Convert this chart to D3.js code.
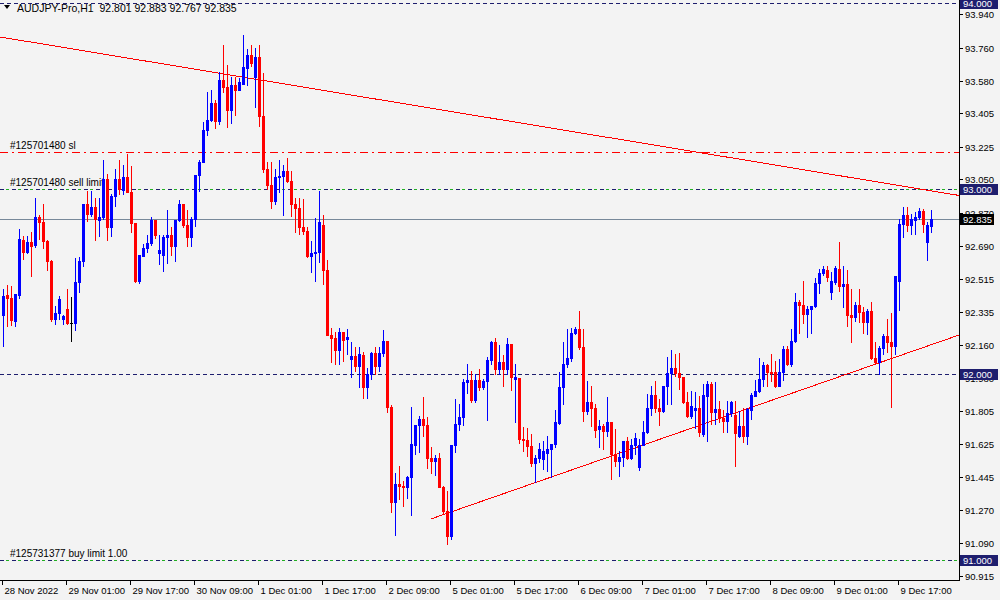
<!DOCTYPE html>
<html>
<head>
<meta charset="utf-8">
<script src="https://cdn.jsdelivr.net/npm/d3@7"></script>
<style>
  html, body { margin: 0; padding: 0; background: #f3f3f3; }
  svg { display: block; }
  text { font-family: "Liberation Sans", Arial, sans-serif; }
</style>
</head>
<body>
<svg id="chart" width="1000" height="600"></svg>
<script>
// AUDJPY-Pro, H1 candles (bar 0 = 28 Nov 2022 09:00)
const open = [
92.318, 92.426, 92.410, 92.286, 92.426, 92.722, 92.657, 92.711, 92.695, 92.845,
92.819, 92.716, 92.608, 92.297, 92.329, 92.297, 92.350, 92.275, 92.275, 92.496,
92.608, 92.915, 92.862, 92.899, 92.829, 92.845, 93.050, 92.792, 92.958, 93.050,
92.991, 93.061, 92.980, 92.813, 92.501, 92.636, 92.679, 92.706, 92.829, 92.651,
92.641, 92.738, 92.749, 92.690, 92.829, 92.915, 92.803, 92.738, 92.835, 93.072,
93.141, 93.314, 93.368, 93.464, 93.362, 93.583, 93.545, 93.426, 93.556, 93.534,
93.566, 93.652, 93.722, 93.603, 93.711, 93.389, 93.104, 93.018, 92.931, 93.061,
93.066, 93.093, 93.039, 92.920, 92.894, 92.792, 92.770, 92.636, 92.651, 92.657,
92.803, 92.561, 92.211, 92.194, 92.130, 92.227, 92.189, 92.081, 92.097, 92.043,
92.103, 91.931, 92.001, 92.113, 92.043, 92.113, 92.178, 91.823, 91.312, 91.409,
91.398, 91.393, 91.447, 91.619, 91.727, 91.759, 91.727, 91.548, 91.532, 91.548,
91.393, 91.263, 91.129, 91.619, 91.732, 91.770, 91.958, 91.969, 91.861, 91.969,
91.931, 91.963, 92.076, 92.173, 92.028, 92.065, 92.028, 92.162, 91.974, 91.979,
91.651, 91.646, 91.613, 91.521, 91.548, 91.543, 91.575, 91.597, 91.624, 91.737,
91.931, 92.055, 92.087, 92.221, 92.243, 92.146, 91.802, 91.850, 91.818, 91.705,
91.721, 91.694, 91.743, 91.570, 91.532, 91.554, 91.640, 91.548, 91.619, 91.500,
91.619, 91.689, 91.818, 91.888, 91.818, 91.802, 91.936, 92.006, 92.033, 92.006,
91.985, 91.850, 91.775, 91.807, 91.818, 91.678, 91.882, 91.947, 91.796, 91.812,
91.764, 91.748, 91.791, 91.780, 91.667, 91.721, 91.667, 91.807, 91.882, 91.909,
91.974, 92.049, 92.012, 92.012, 91.936, 92.012, 92.135, 92.055, 92.178, 92.388,
92.372, 92.323, 92.350, 92.366, 92.490, 92.544, 92.561, 92.442, 92.496, 92.566,
92.474, 92.485, 92.318, 92.307, 92.372, 92.334, 92.281, 92.339, 92.087, 92.065,
92.141, 92.205, 92.173, 92.151, 92.501, 92.808, 92.856, 92.803, 92.829, 92.845,
92.878, 92.711, 92.801
];
const high = [
92.458, 92.480, 92.474, 92.431, 92.781, 92.743, 92.743, 92.765, 92.948, 92.856,
92.915, 92.722, 92.614, 92.366, 92.420, 92.318, 92.458, 92.415, 92.625, 92.630,
92.915, 92.985, 92.985, 92.948, 92.948, 93.157, 93.077, 92.969, 93.104, 93.157,
93.130, 93.189, 93.120, 92.813, 92.641, 92.700, 92.749, 92.850, 92.829, 92.749,
92.749, 92.883, 92.792, 92.829, 92.937, 92.915, 92.883, 92.845, 93.072, 93.157,
93.357, 93.518, 93.534, 93.480, 93.630, 93.776, 93.668, 93.603, 93.603, 93.598,
93.830, 93.754, 93.776, 93.760, 93.776, 93.625, 93.141, 93.141, 93.104, 93.152,
93.125, 93.163, 93.093, 92.948, 92.948, 92.942, 92.792, 92.716, 92.840, 92.985,
92.856, 92.614, 92.248, 92.227, 92.248, 92.227, 92.243, 92.173, 92.146, 92.146,
92.119, 92.033, 92.119, 92.146, 92.146, 92.238, 92.178, 91.834, 91.468, 91.506,
91.425, 91.452, 91.823, 91.727, 91.775, 91.877, 91.770, 91.608, 91.565, 91.575,
91.398, 91.371, 91.619, 91.866, 91.839, 91.974, 92.055, 92.017, 92.001, 92.028,
91.974, 92.092, 92.178, 92.194, 92.157, 92.103, 92.194, 92.162, 92.055, 91.979,
91.716, 91.710, 91.678, 91.565, 91.629, 91.640, 91.667, 91.624, 91.807, 92.012,
92.173, 92.243, 92.248, 92.254, 92.339, 92.243, 91.963, 91.936, 91.839, 91.754,
91.732, 91.877, 91.743, 91.705, 91.586, 91.640, 91.662, 91.651, 91.683, 91.651,
91.748, 91.893, 91.936, 91.963, 91.866, 91.936, 92.092, 92.130, 92.108, 92.113,
91.985, 91.904, 91.909, 91.904, 91.882, 91.947, 91.963, 91.958, 91.958, 91.855,
91.807, 91.855, 91.855, 91.855, 91.802, 91.818, 91.818, 91.898, 91.969, 92.087,
92.065, 92.055, 92.108, 92.070, 92.081, 92.151, 92.151, 92.243, 92.436, 92.399,
92.501, 92.366, 92.366, 92.517, 92.566, 92.581, 92.581, 92.550, 92.581, 92.711,
92.581, 92.561, 92.458, 92.388, 92.458, 92.361, 92.350, 92.388, 92.173, 92.151,
92.216, 92.297, 92.329, 92.528, 92.835, 92.899, 92.899, 92.862, 92.872, 92.894,
92.888, 92.819, 92.883
];
const low = [
92.151, 92.259, 92.265, 92.259, 92.410, 92.619, 92.651, 92.528, 92.684, 92.727,
92.679, 92.561, 92.286, 92.270, 92.297, 92.270, 92.270, 92.178, 92.238, 92.442,
92.581, 92.824, 92.851, 92.722, 92.743, 92.835, 92.722, 92.743, 92.904, 92.969,
92.969, 92.980, 92.765, 92.496, 92.490, 92.636, 92.657, 92.695, 92.733, 92.592,
92.555, 92.597, 92.641, 92.608, 92.824, 92.792, 92.690, 92.690, 92.797, 92.985,
93.141, 93.287, 93.362, 93.325, 93.346, 93.523, 93.330, 93.351, 93.399, 93.529,
93.566, 93.556, 93.663, 93.442, 93.335, 93.088, 92.996, 92.894, 92.920, 92.980,
92.856, 93.034, 92.851, 92.765, 92.754, 92.754, 92.630, 92.550, 92.501, 92.603,
92.485, 92.211, 92.065, 92.054, 92.054, 92.070, 92.108, 91.985, 92.017, 91.931,
91.872, 91.872, 91.974, 92.001, 92.017, 92.097, 91.796, 91.258, 91.135, 91.328,
91.290, 91.333, 91.242, 91.570, 91.581, 91.667, 91.495, 91.468, 91.458, 91.393,
91.252, 91.086, 91.113, 91.581, 91.700, 91.727, 91.898, 91.850, 91.850, 91.915,
91.920, 91.754, 92.054, 92.001, 92.001, 91.936, 92.001, 91.915, 91.743, 91.630,
91.586, 91.560, 91.506, 91.420, 91.527, 91.490, 91.479, 91.447, 91.608, 91.732,
91.839, 92.039, 92.070, 92.216, 92.135, 91.748, 91.786, 91.721, 91.662, 91.608,
91.597, 91.667, 91.436, 91.506, 91.452, 91.506, 91.543, 91.543, 91.570, 91.484,
91.619, 91.683, 91.780, 91.796, 91.727, 91.796, 91.839, 91.839, 91.990, 91.920,
91.845, 91.770, 91.764, 91.710, 91.667, 91.667, 91.640, 91.732, 91.732, 91.743,
91.689, 91.689, 91.775, 91.506, 91.662, 91.635, 91.624, 91.759, 91.882, 91.904,
91.936, 91.936, 91.963, 91.931, 91.936, 91.969, 92.049, 92.044, 92.173, 92.221,
92.275, 92.200, 92.221, 92.361, 92.436, 92.534, 92.501, 92.404, 92.485, 92.447,
92.361, 92.259, 92.173, 92.286, 92.281, 92.221, 92.216, 92.081, 92.055, 92.001,
92.108, 92.119, 91.823, 92.108, 92.345, 92.738, 92.770, 92.754, 92.754, 92.835,
92.765, 92.614, 92.767
];
const close = [
92.420, 92.410, 92.292, 92.431, 92.727, 92.657, 92.711, 92.690, 92.845, 92.819,
92.716, 92.608, 92.297, 92.329, 92.404, 92.313, 92.275, 92.275, 92.496, 92.608,
92.915, 92.862, 92.899, 92.835, 92.845, 93.050, 92.792, 92.958, 93.050, 92.996,
93.061, 92.980, 92.813, 92.501, 92.641, 92.679, 92.706, 92.829, 92.749, 92.668,
92.738, 92.749, 92.690, 92.829, 92.915, 92.803, 92.738, 92.835, 93.072, 93.141,
93.314, 93.368, 93.464, 93.362, 93.583, 93.545, 93.426, 93.556, 93.534, 93.572,
93.657, 93.722, 93.679, 93.711, 93.389, 93.104, 93.018, 92.931, 93.061, 93.066,
93.093, 93.039, 92.920, 92.894, 92.792, 92.770, 92.636, 92.651, 92.657, 92.819,
92.561, 92.211, 92.194, 92.130, 92.227, 92.184, 92.200, 92.097, 92.043, 92.108,
91.931, 92.001, 92.113, 92.043, 92.113, 92.178, 91.823, 91.312, 91.409, 91.398,
91.393, 91.447, 91.624, 91.727, 91.759, 91.727, 91.548, 91.532, 91.548, 91.393,
91.263, 91.129, 91.619, 91.732, 91.770, 91.958, 91.969, 91.861, 91.969, 91.931,
91.963, 92.076, 92.173, 92.028, 92.065, 92.028, 92.162, 91.985, 91.985, 91.651,
91.646, 91.613, 91.521, 91.548, 91.597, 91.586, 91.597, 91.624, 91.743, 91.931,
92.055, 92.087, 92.221, 92.243, 92.146, 91.802, 91.850, 91.818, 91.700, 91.721,
91.694, 91.743, 91.570, 91.532, 91.554, 91.640, 91.548, 91.619, 91.656, 91.619,
91.689, 91.818, 91.888, 91.818, 91.802, 91.936, 92.006, 92.033, 92.006, 91.985,
91.850, 91.775, 91.829, 91.818, 91.689, 91.888, 91.947, 91.796, 91.812, 91.764,
91.748, 91.791, 91.850, 91.683, 91.721, 91.667, 91.812, 91.888, 91.909, 91.974,
92.049, 92.012, 92.006, 91.936, 92.012, 92.135, 92.055, 92.178, 92.388, 92.372,
92.323, 92.350, 92.366, 92.490, 92.544, 92.566, 92.523, 92.501, 92.571, 92.474,
92.485, 92.318, 92.307, 92.372, 92.334, 92.281, 92.339, 92.087, 92.065, 92.141,
92.205, 92.173, 92.151, 92.528, 92.808, 92.856, 92.803, 92.835, 92.845, 92.878,
92.808, 92.803, 92.835
];

// time axis labels, one every 16 bars
const dateBars = [0, 16, 32, 48, 64, 80, 96, 112, 128, 144, 160, 176, 192, 208, 224];
const dateLabels = ["28 Nov 2022", "29 Nov 01:00", "29 Nov 17:00", "30 Nov 09:00", "1 Dec 01:00",
  "1 Dec 17:00", "2 Dec 09:00", "5 Dec 01:00", "5 Dec 17:00", "6 Dec 09:00", "7 Dec 01:00",
  "7 Dec 17:00", "8 Dec 09:00", "9 Dec 01:00", "9 Dec 17:00"];

// price scale labels
const priceTicks = [93.940, 93.760, 93.580, 93.405, 93.225, 93.050, 92.870, 92.690, 92.515,
  92.335, 92.160, 91.980, 91.805, 91.625, 91.445, 91.270, 91.090, 90.915];

// horizontal levels (orders / alerts)
const levelPrices = [94.000, 93.200, 93.000, 92.000, 91.000];
const levelKinds = ["navy", "sl", "order", "navy", "order"];
const levelTexts = ["", "#125701480 sl", "#125701480 sell limit", "", "#125731377 buy limit 1.00"];
const levelBoxes = [true, false, true, true, true];

// trend lines: [bar, price] pairs
const trendStart = [[-1, 93.818], [107, 91.221]];
const trendEnd = [[240, 92.960], [240, 92.219]];

const bid = 92.835;
const header = "AUDJPY-Pro,H1  92.801 92.883 92.767 92.835";

const plotW = 959, plotH = 580;
const navy = "#1e1e6e";

const svg = d3.select("#chart");
const x = d3.scaleLinear().domain([0, close.length - 1]).range([3, 3 + 4 * (close.length - 1)]);
const y = d3.scaleLinear().domain([90.892, 94.0162]).range([plotH, 0]);
const fmt = d3.format(".3f");
const py = p => Math.round(y(p));

svg.append("rect").attr("width", 1000).attr("height", 600).attr("fill", "#f3f3f3");

svg.append("defs").append("clipPath").attr("id", "clip")
  .append("rect").attr("width", plotW).attr("height", plotH);

const plot = svg.append("g").attr("clip-path", "url(#clip)");

// level lines
function hline(p, color, dash, offset) {
  plot.append("line")
    .attr("x1", 0).attr("x2", plotW)
    .attr("y1", py(p) + 0.5).attr("y2", py(p) + 0.5)
    .attr("stroke", color).attr("stroke-width", 1)
    .attr("stroke-dasharray", dash)
    .attr("stroke-dashoffset", offset || 0)
    .attr("shape-rendering", "crispEdges");
}

levelPrices.forEach((p, i) => {
  const kind = levelKinds[i];
  if (kind === "sl") {
    hline(p, "#ff0000", "8,4,2,4");
  } else if (kind === "order") {
    hline(p, navy, "4,8");
    hline(p, "#22b022", "3,9", -6);
  } else {
    hline(p, navy, "4,3");
  }
  if (levelTexts[i]) {
    plot.append("text")
      .attr("x", 10).attr("y", py(p) - 3)
      .attr("font-size", "10px").attr("fill", "#000")
      .text(levelTexts[i]);
  }
});

// bid line
plot.append("line")
  .attr("x1", 0).attr("x2", plotW)
  .attr("y1", py(bid) + 0.5).attr("y2", py(bid) + 0.5)
  .attr("stroke", "#778899").attr("stroke-width", 1)
  .attr("shape-rendering", "crispEdges");

// trend lines
trendStart.forEach((s, i) => {
  const e = trendEnd[i];
  plot.append("line")
    .attr("x1", x(s[0])).attr("y1", y(s[1]))
    .attr("x2", x(e[0])).attr("y2", y(e[1]))
    .attr("stroke", "#ff0000").attr("stroke-width", 1)
    .attr("shape-rendering", "crispEdges");
});

// candles
const idx = d3.range(close.length);
const colorOf = i => close[i] > open[i] ? "#0000ff" : (close[i] < open[i] ? "#ff0000" : "#000000");

const candle = plot.selectAll(".candle")
  .data(idx)
  .enter()
  .append("g")
  .attr("class", "candle")
  .attr("shape-rendering", "crispEdges");

candle.append("rect")
  .attr("x", i => Math.round(x(i)))
  .attr("y", i => py(high[i]))
  .attr("width", 1)
  .attr("height", i => Math.max(1, py(low[i]) - py(high[i]) + 1))
  .attr("fill", colorOf);

candle.append("rect")
  .attr("x", i => Math.round(x(i)) - 1)
  .attr("y", i => Math.min(py(open[i]), py(close[i])))
  .attr("width", 3)
  .attr("height", i => Math.max(1, Math.abs(py(open[i]) - py(close[i])) + 1))
  .attr("fill", colorOf);

// axes frame
svg.append("line").attr("x1", plotW + 0.5).attr("x2", plotW + 0.5)
  .attr("y1", 0).attr("y2", plotH + 1).attr("stroke", "#000");
svg.append("line").attr("x1", 0).attr("x2", plotW + 1)
  .attr("y1", plotH + 0.5).attr("y2", plotH + 0.5).attr("stroke", "#000");

// price axis
const pAxis = svg.append("g");
priceTicks.forEach(p => {
  pAxis.append("line")
    .attr("x1", plotW).attr("x2", plotW + 4)
    .attr("y1", py(p) + 0.5).attr("y2", py(p) + 0.5)
    .attr("stroke", "#000");
  pAxis.append("text")
    .attr("x", 965).attr("y", py(p) + 4)
    .attr("font-size", "9.5px").attr("fill", "#000")
    .text(fmt(p));
});

// price boxes
function priceBox(p, fill, w) {
  const cy = y(p);
  svg.append("rect")
    .attr("x", 960).attr("y", Math.round(cy) - 5)
    .attr("width", w).attr("height", 11)
    .attr("fill", fill);
  svg.append("text")
    .attr("x", 963).attr("y", Math.round(cy) + 4)
    .attr("font-size", "9.5px").attr("fill", "#fff")
    .text(fmt(p));
}
levelPrices.forEach((p, i) => { if (levelBoxes[i]) priceBox(p, navy, 38); });
priceBox(bid, "#000", 34);

// time axis
const tAxis = svg.append("g");
dateBars.forEach((b, i) => {
  const tx = Math.round(x(b)) - 0.5;
  tAxis.append("line")
    .attr("x1", tx).attr("x2", tx)
    .attr("y1", plotH).attr("y2", plotH + 5)
    .attr("stroke", "#000");
  tAxis.append("text")
    .attr("x", tx + 2).attr("y", plotH + 14)
    .attr("font-size", "9.5px").attr("fill", "#000")
    .text(dateLabels[i]);
});

// header
svg.append("path").attr("d", "M4,5 L10,5 L7,9 Z").attr("fill", "#000");
svg.append("text")
  .attr("x", 17).attr("y", 12)
  .attr("font-size", "10.5px")
  .attr("font-family", "'Liberation Sans Narrow', 'Arial Narrow', 'Liberation Sans', sans-serif")
  .attr("fill", "#000")
  .attr("xml:space", "preserve")
  .style("white-space", "pre")
  .text(header);
</script>
</body>
</html>
